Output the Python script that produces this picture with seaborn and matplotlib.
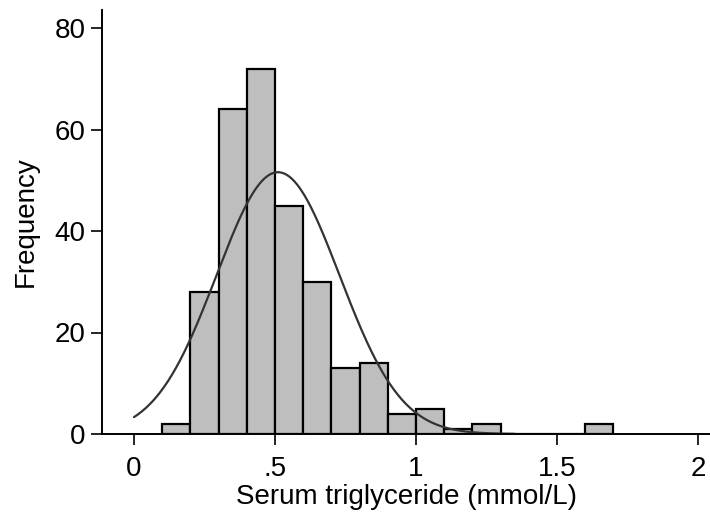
import numpy as np
import pandas as pd
import matplotlib
matplotlib.use("Agg")
import matplotlib.pyplot as plt
import seaborn as sns

# Histogram data
bin_edges = [0.1, 0.2, 0.3, 0.4, 0.5, 0.6, 0.7, 0.8, 0.9, 1.0, 1.1, 1.2, 1.3, 1.4, 1.5, 1.6, 1.7]
counts = [2, 28, 64, 72, 45, 30, 13, 14, 4, 5, 1, 2, 0, 0, 0, 2]
x_ticks = [0, 0.5, 1, 1.5, 2]
x_tick_labels = ["0", ".5", "1", "1.5", "2"]
y_ticks = [0, 20, 40, 60, 80]

edges = np.array(bin_edges)
mids = (edges[:-1] + edges[1:]) / 2
w = np.array(counts, dtype=float)
width = edges[1] - edges[0]
df = pd.DataFrame({"mid": mids, "count": w})

# normal fit from the histogram
n = w.sum()
mu = (mids * w).sum() / n
sd = np.sqrt(((mids - mu) ** 2 * w).sum() / n)

sns.set_style("white")
plt.rcParams["font.family"] = ["Liberation Sans", "DejaVu Sans"]

fig = plt.figure(figsize=(7.1, 5.12), dpi=100)
ax = fig.add_axes([102 / 710, 1 - 434 / 512, 1 - 102 / 710, (434 - 10) / 512])

sns.histplot(data=df, x="mid", weights="count", bins=list(bin_edges), ax=ax,
             color="#bebebe", edgecolor="black", linewidth=1.6, alpha=1, stat="count")

xs = np.linspace(0, 1.35, 300)
ys = n * width / (sd * np.sqrt(2 * np.pi)) * np.exp(-0.5 * ((xs - mu) / sd) ** 2)
sns.lineplot(x=xs, y=ys, ax=ax, color="#333333", linewidth=1.6)

ax.set_xlim(-(134 - 102) / 282, (710 - 134) / 282)
ax.set_ylim(0, (434 - 10) / 5.075)
ax.set_xticks(x_ticks)
ax.set_xticklabels(x_tick_labels)
ax.set_yticks(y_ticks)
ax.tick_params(axis="both", direction="out", length=8, width=1.2, labelsize=20,
               bottom=True, left=True, color="black", labelcolor="black")
ax.tick_params(axis="y", pad=4)
ax.tick_params(axis="x", pad=8)
for s in ["top", "right"]:
    ax.spines[s].set_visible(False)
for s in ["left", "bottom"]:
    ax.spines[s].set_color("black")
    ax.spines[s].set_linewidth(1.4)
ax.set_xlabel("Serum triglyceride (mmol/L)", fontsize=20, labelpad=1, color="black")
ax.set_ylabel("Frequency", fontsize=20, labelpad=11, color="black")

fig.savefig("out.png", dpi=100)
